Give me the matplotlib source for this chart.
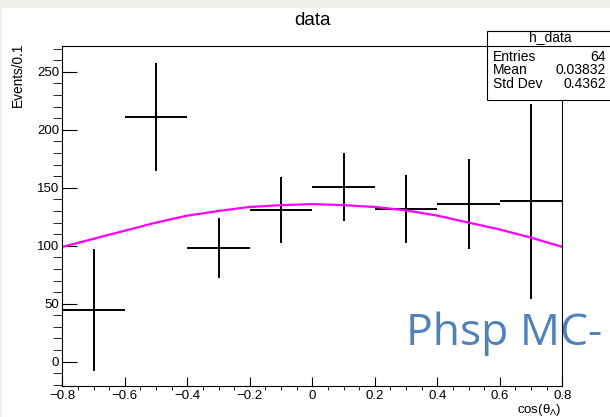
import matplotlib
matplotlib.use("Agg")
import matplotlib.pyplot as plt
from matplotlib.patches import Rectangle
from matplotlib.lines import Line2D
from matplotlib.ticker import MultipleLocator

plt.rcParams["font.family"] = ["Liberation Sans", "DejaVu Sans"]
plt.rcParams["mathtext.fontset"] = "custom"
plt.rcParams["mathtext.rm"] = "Liberation Sans"
plt.rcParams["mathtext.it"] = "Liberation Sans"

# h_data: weighted counts per 0.2-wide bin in cos(theta)
bin_centers = [-0.7, -0.5, -0.3, -0.1, 0.1, 0.3, 0.5, 0.7]
bin_half_width = 0.1
counts = [44.6, 211.4, 97.8, 130.9, 150.5, 131.8, 136.1, 138.4]
count_errors = [53.0, 46.5, 26.0, 28.2, 29.5, 29.5, 38.8, 84.0]

# phase-space MC shape, sampled every 0.1
mc_x = [-0.8, -0.7, -0.6, -0.5, -0.4, -0.3, -0.2, -0.1, 0.0,
        0.1, 0.2, 0.3, 0.4, 0.5, 0.6, 0.7, 0.8]
mc_y = [99.0, 106.0, 113.0, 120.0, 126.0, 130.0, 133.5, 135.0, 136.0,
        135.0, 133.5, 130.5, 126.0, 120.0, 114.0, 107.0, 99.0]

xticks = [-0.8, -0.6, -0.4, -0.2, 0.0, 0.2, 0.4, 0.6, 0.8]
xtick_labels = ["\u22120.8", "\u22120.6", "\u22120.4", "\u22120.2", "0",
                "0.2", "0.4", "0.6", "0.8"]
yticks = [0, 50, 100, 150, 200, 250]
ytick_labels = ["0", "50", "100", "150", "200", "250"]

stats_name = "h_data"
stats_rows = [("Entries", "64"), ("Mean", "0.03832"), ("Std Dev", "0.4362")]

W, H = 610, 417


def fx(px):
    return px / W


def fy(py):
    return 1 - py / H


fig = plt.figure(figsize=(W / 100, H / 100), dpi=100)
fig.patch.set_facecolor("white")

# canvas frame strips
frame_col = "#efefea"
fig.add_artist(Rectangle((0, fy(8)), 1, 8 / H, transform=fig.transFigure,
                         color=frame_col, zorder=-1, lw=0))
fig.add_artist(Rectangle((0, 0), fx(2), 1, transform=fig.transFigure,
                         color=frame_col, zorder=-1, lw=0))

ax = fig.add_axes([fx(62.3), fy(386), (562.3 - 62.3) / W, (386 - 45.7) / H])

ax.errorbar(bin_centers, counts, xerr=bin_half_width, yerr=count_errors,
            fmt="none", ecolor="black", elinewidth=1.4, capsize=0)
ax.plot(mc_x, mc_y, color="#ff00ff", lw=1.6)

ax.set_xlim(-0.8, 0.8)
ax.set_ylim(-21.0, 272.6)
ax.set_xticks(xticks, labels=xtick_labels)
ax.set_yticks(yticks, labels=ytick_labels)
ax.xaxis.set_minor_locator(MultipleLocator(0.05))
ax.yaxis.set_minor_locator(MultipleLocator(10))
ax.tick_params(direction="in", width=0.8, labelsize=9.5, top=False, right=False)
ax.tick_params(axis="x", which="major", length=6.7, pad=3.2)
ax.tick_params(axis="x", which="minor", length=3.1)
ax.tick_params(axis="y", which="major", length=10.8, pad=2.4)
ax.tick_params(axis="y", which="minor", length=6.2)
for sp in ax.spines.values():
    sp.set_linewidth(0.8)

ax.set_title("data", fontsize=13.5, pad=14.9)
fig.text(fx(17.7), fy(43), "Events/0.1", rotation=90, ha="center", va="top",
         fontsize=9.8)
fig.text(fx(562), fy(410.5), r"cos($\theta_{\Lambda}$)", ha="right",
         va="center", fontsize=9.5)

# stats box, runs off the right edge of the canvas
fig.add_artist(Rectangle((fx(487), fy(100)), (613 - 487) / W, 69 / H,
                         transform=fig.transFigure, fc="white", ec="black",
                         lw=0.8, zorder=5))
fig.add_artist(Line2D([fx(487), fx(613)], [fy(46), fy(46)],
                      transform=fig.transFigure, color="black", lw=0.8,
                      zorder=6))
fig.text(fx(550), fy(37.0), stats_name, ha="center", va="center",
         fontsize=10, zorder=7)
for i, (label, value) in enumerate(stats_rows):
    yy = fy(56.7 + 13.4 * i)
    fig.text(fx(493), yy, label, ha="left", va="center", fontsize=10, zorder=7)
    fig.text(fx(606), yy, value, ha="right", va="center", fontsize=10,
             zorder=7)

# slide caption sits under the frame
ax.text(fx(406), fy(345), "Phsp MC-", transform=fig.transFigure,
        fontsize=32, color="#4f81bd", family="Open Sans", ha="left",
        va="baseline", zorder=2, clip_on=False)

fig.savefig("out.png", dpi=100)
